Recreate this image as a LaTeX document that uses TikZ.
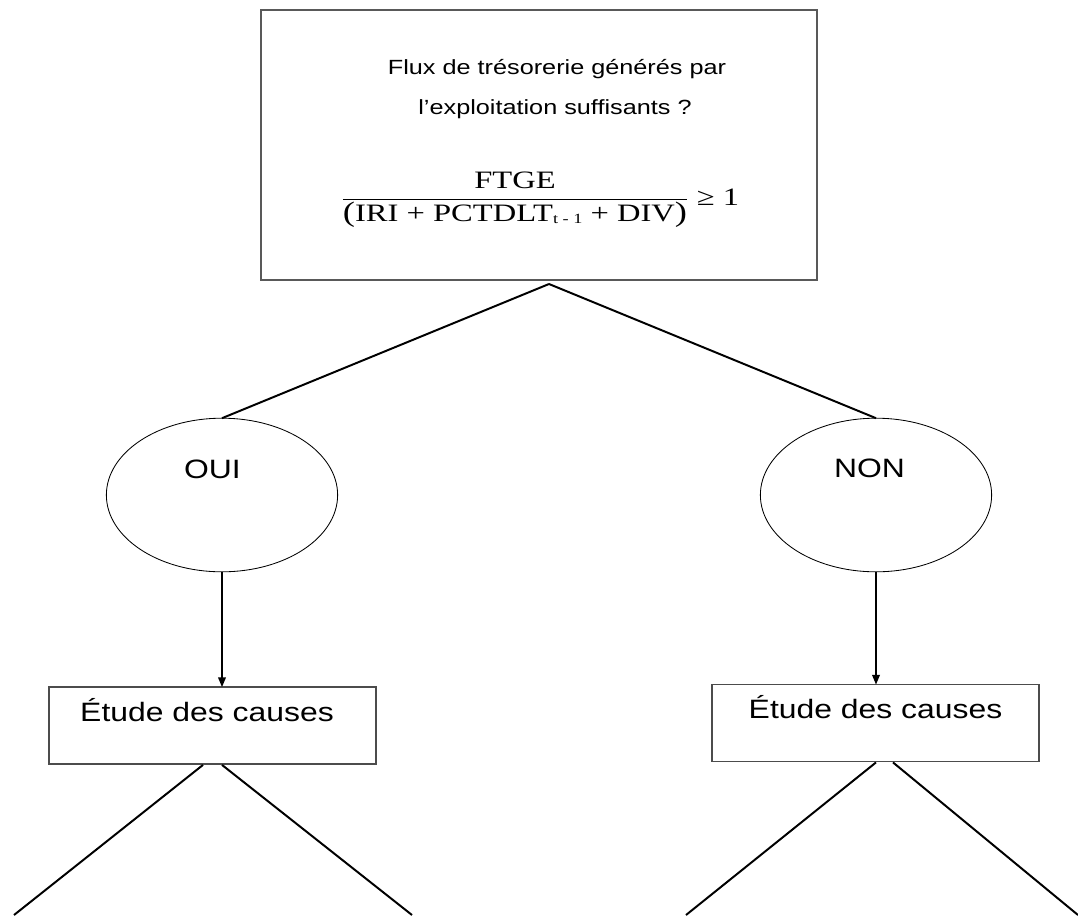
\documentclass[tikz,border=0pt]{standalone}
\usepackage{fontspec}
\setmainfont{Liberation Sans}
\newfontfamily\arialwide[FakeStretch=1.2]{Liberation Sans}
\newfontfamily\arialtop[FakeStretch=1.23]{Liberation Sans}
\newfontfamily\timeswide[FakeStretch=1.3]{Liberation Serif}
\usetikzlibrary{shapes.geometric, arrows.meta, calc, positioning}
\tikzset{
  questionbox/.style={draw=black!65, line width=1.1pt, minimum width=13.9cm,
    minimum height=6.75cm, inner sep=0pt, outer sep=0pt}
}
\tikzset{
  causebox/.style={draw=black!70, line width=1pt, minimum width=8.175cm,
    minimum height=1.92cm, inner sep=0pt, outer sep=0pt},
  answer/.style={ellipse, draw, line width=0.6pt, minimum width=5.78cm,
    minimum height=3.84cm, inner sep=0pt, outer sep=0pt}
}
\tikzset{
  toptext/.style={anchor=base, inner sep=0pt, font=\arialtop\fontsize{14.6pt}{17pt}\selectfont},
  midtext/.style={anchor=base, inner sep=0pt, font=\arialwide\fontsize{18.9pt}{22pt}\selectfont},
  branch/.style={line width=1.4pt},
  flow/.style={line width=1.1pt}
}
\newcommand{\tsub}[1]{\raisebox{-1.5pt}{\fontsize{10pt}{10pt}\selectfont #1}}

\begin{document}
\begin{tikzpicture}[x=0.025cm, y=-0.025cm, >={Triangle[length=7pt,width=5.5pt]}]
  \useasboundingbox (0,0) rectangle (1078,915);
  % question and its ratio
  \node[questionbox] (question) at (539,145) {};
  \node[toptext] (line1) at (557,74) {Flux de trésorerie générés par};
  \node[toptext] (line2) at (555,114) {l’exploitation suffisants ?};
  \node[anchor=base west, inner sep=0pt, font=\timeswide\fontsize{17.8pt}{21pt}\selectfont] (ratio) at (341,205)
    {$\displaystyle\frac{\hbox{FTGE}}{\hbox{{\fontsize{20pt}{20pt}\selectfont(}IRI + PCTDLT\tsub{t - 1} + DIV{\fontsize{20pt}{20pt}\selectfont)}}}\hbox{ ≥ 1}$};
  \coordinate (apex) at (549,284);
  % answers
  \node[answer] (oui) at (222,495) {};
  \node[answer] (non) at (876,495) {};
  \node[midtext] (ouitext) at (212.5,478) {OUI};
  \node[midtext] (nontext) at (869.5,477) {NON};
  \draw[branch] (apex) -- (oui.north);
  \draw[branch] (apex) -- (non.north);
  % causes
  \node[causebox] (causeL) at (212.5,725.5) {};
  \node[causebox] (causeR) at (875.5,723) {};
  \node[midtext] (causeLtext) at (207,721) {Étude des causes};
  \node[midtext] (causeRtext) at (875.5,718) {Étude des causes};
  \draw[flow, ->] (oui.south) -- (oui.south |- causeL.north);
  \draw[flow, ->] (non.south) -- (non.south |- causeR.north);
  % branches cut by the lower edge
  \coordinate (endLL) at (14,915);
  \coordinate (endLR) at (412,915);
  \coordinate (endRL) at (686,915);
  \coordinate (endRR) at (1078,915);
  \draw[branch] ($(causeL.south)+(-9.5,1)$) -- (endLL);
  \draw[branch] ($(causeL.south)+(9.5,1)$) -- (endLR);
  \draw[branch] ($(causeR.south)+(0.5,1)$) -- (endRL);
  \draw[branch] ($(causeR.south)+(17.5,1)$) -- (endRR);
\end{tikzpicture}
\end{document}
